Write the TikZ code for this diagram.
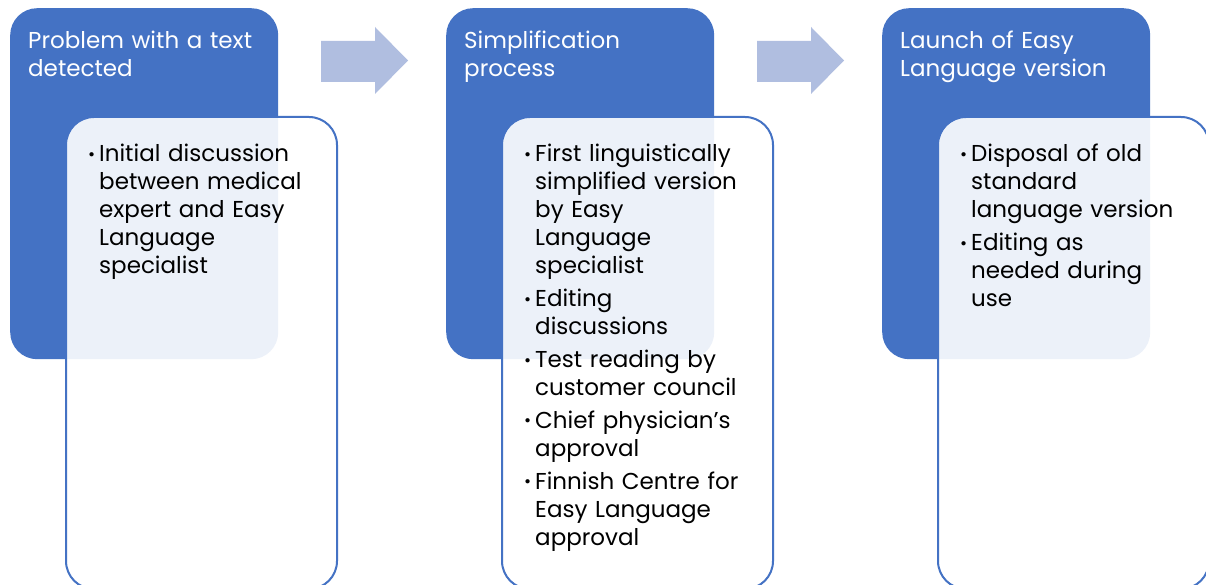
\documentclass[tikz,border=0pt]{standalone}
\usepackage{fontspec}
\setmainfont{Poppins}
\definecolor{accblue}{HTML}{4472C4}
\definecolor{arrowblue}{HTML}{B0BEE0}
\newcommand{\bitem}[1]{\par\noindent\hangindent=11pt\hangafter=1\makebox[11pt][l]{\raisebox{1.5pt}{\scalebox{0.75}{\textbullet}}}#1\par}
\begin{document}
\begin{tikzpicture}[x=1pt,y=-1pt,
  stagebox/.style={fill=accblue, draw=none, rounded corners=27pt, minimum width=268pt, minimum height=351pt, anchor=north west, inner sep=0pt},
  detailbox/.style={fill=white, fill opacity=0.9, draw=accblue, line width=2pt, rounded corners=28pt, minimum width=271pt, minimum height=472pt, anchor=north west, inner sep=0pt},
  titletext/.style={text=white, anchor=north west, inner sep=0pt, text width=260pt, align=left, font=\fontsize{23}{28}\selectfont},
  bodytext/.style={text=black, anchor=north west, inner sep=0pt, text width=300pt, align=left, font=\fontsize{23}{28}\selectfont\setlength{\parskip}{4.8pt}},
  flowarrow/.style={fill=arrowblue, draw=none}
]
\clip (0,0) rectangle (1206,585);
\fill[white] (0,0) rectangle (1206,585);
% stage 1
\node[stagebox] (s1) at (10,8) {};
\node[detailbox] (d1) at (65,116) {};
\node[titletext] (t1) at (28,31) {Problem with a text\\detected};
\node[bodytext] (b1) at (88,129) {\bitem{Initial discussion\newline between medical\newline expert and Easy\newline Language\newline specialist}};
% stage 2
\node[stagebox] (s2) at (446,8) {};
\node[detailbox] (d2) at (501,116) {};
\node[titletext] (t2) at (464,31) {Simplification\\process};
\node[bodytext] (b2) at (524,129) {\bitem{First linguistically\newline simplified version\newline by Easy\newline Language\newline specialist}\bitem{Editing\newline discussions}\bitem{Test reading by\newline customer council}\bitem{Chief physician’s\newline approval}\bitem{Finnish Centre for\newline Easy Language\newline approval}};
% stage 3
\node[stagebox] (s3) at (882,8) {};
\node[detailbox] (d3) at (937,116) {};
\node[titletext] (t3) at (900,31) {Launch of Easy\\Language version};
\node[bodytext] (b3) at (960,129) {\bitem{Disposal of old\newline standard\newline language version}\bitem{Editing as\newline needed during\newline use}};
% arrows
\fill[flowarrow] (321,41) -- (375,41) -- (375,27) -- (408,60.5) -- (375,94) -- (375,82) -- (321,82) -- cycle;
\fill[flowarrow] (757,41) -- (811,41) -- (811,27) -- (844,60.5) -- (811,94) -- (811,82) -- (757,82) -- cycle;
\end{tikzpicture}
\end{document}
